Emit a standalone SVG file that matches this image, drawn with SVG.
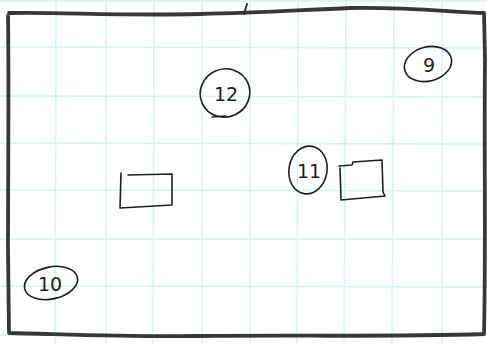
<svg xmlns="http://www.w3.org/2000/svg" width="487" height="344" viewBox="0 0 487 344">
<style>
.grid line{stroke:#d2f4f4;stroke-width:1.6}
.frame{fill:none;stroke:#383838;stroke-width:3.8;stroke-linejoin:round;stroke-linecap:round}
.ink{fill:none;stroke:#1e1e1e;stroke-width:1.6;stroke-linecap:round;stroke-linejoin:round}
.lbl{font-family:"DejaVu Sans",sans-serif;font-size:19px;fill:#1e1e1e;text-anchor:middle}
</style>
<rect width="487" height="344" fill="#ffffff"/>
<g class="grid">
<line x1="56" y1="0" x2="55" y2="344"/>
<line x1="106" y1="0" x2="106" y2="344"/>
<line x1="154" y1="0" x2="153" y2="344"/>
<line x1="202" y1="0" x2="202" y2="344"/>
<line x1="250" y1="0" x2="250" y2="344"/>
<line x1="298" y1="0" x2="297" y2="344"/>
<line x1="346" y1="0" x2="344" y2="344"/>
<line x1="394" y1="0" x2="392" y2="344"/>
<line x1="442" y1="0" x2="442" y2="344"/>
<line x1="0" y1="1" x2="487" y2="1"/>
<line x1="0" y1="47" x2="487" y2="48"/>
<line x1="0" y1="96" x2="487" y2="97"/>
<line x1="0" y1="143" x2="487" y2="144"/>
<line x1="0" y1="190" x2="487" y2="191"/>
<line x1="0" y1="239" x2="487" y2="239"/>
<line x1="0" y1="286" x2="487" y2="287"/>
<line x1="0" y1="335" x2="487" y2="335"/>
</g>
<path class="frame" d="M9,13 C60,12 120,16 200,14 C260,13 300,10 350,8 C410,7 450,12 484,13 L485,60 C484,150 486,250 484,334 C400,337 300,335 200,336 C120,337 60,334 9,333 L8,250 C8,180 9,80 8,16"/>
<path class="ink" d="M247,4 L244,14" style="stroke:#333;stroke-width:2"/>
<g id="connectors"/>
<g id="node-12">
<ellipse class="ink" cx="225" cy="93" rx="25" ry="24" transform="rotate(-25 225 93)"/>
<path class="ink" d="M212,117 L226,116"/>
<text class="lbl" x="226" y="101">12</text>
</g>
<g id="node-9">
<ellipse class="ink" cx="428" cy="64" rx="24" ry="17" transform="rotate(-15 428 64)"/>
<text class="lbl" x="429" y="72">9</text>
</g>
<g id="node-11">
<ellipse class="ink" cx="308" cy="170" rx="19" ry="24" transform="rotate(10 308 170)"/>
<text class="lbl" x="309" y="178">11</text>
</g>
<g id="node-10">
<ellipse class="ink" cx="51" cy="283" rx="27" ry="16" transform="rotate(-12 51 283)"/>
<text class="lbl" x="50" y="291">10</text>
</g>
<g id="box-left">
<path class="ink" d="M128,175 L172,174 L172,205 L120,208 L121,173"/>
</g>
<g id="box-right">
<path class="ink" d="M339,166 L352,165 L353,162 L382,160 L383,192 L385,196 L341,200 L340,168"/>
</g>
</svg>
